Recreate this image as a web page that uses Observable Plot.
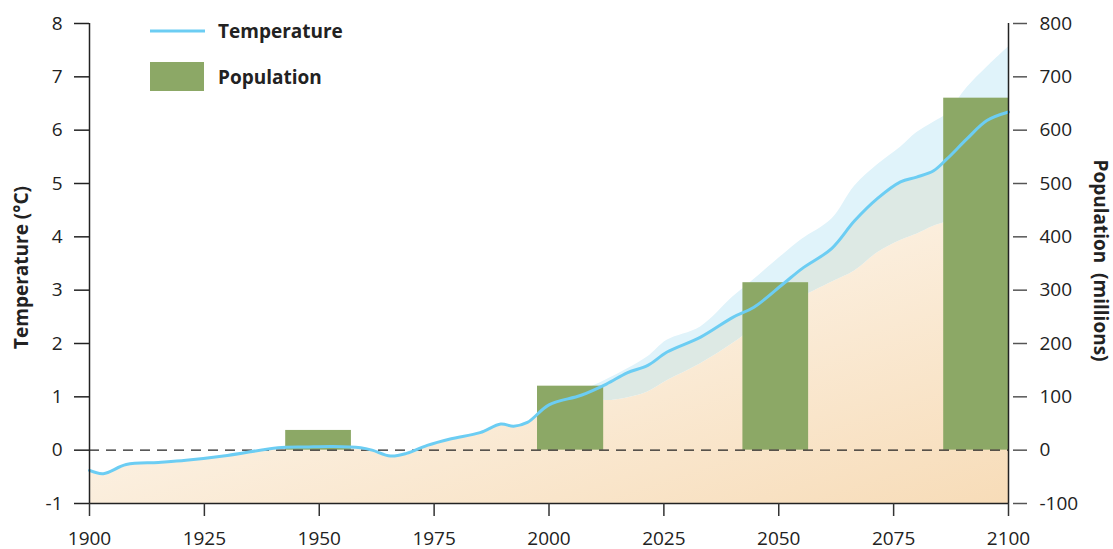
<!DOCTYPE html>
<html><head><meta charset="utf-8">
<script src="https://cdn.jsdelivr.net/npm/d3@7"></script>
<script src="https://cdn.jsdelivr.net/npm/@observablehq/plot@0.6"></script>
<style>
body{margin:0;background:#fff;}
#chart svg{font-family:"Open Sans",sans-serif;}
</style>
</head><body><div id="chart"></div>
<script>
// Temperature series (°C) with projection band
const years = [1900, 1903, 1908, 1915, 1921, 1930, 1941, 1947, 1953, 1959, 1961.5, 1965.5, 1969, 1973.5, 1978.5, 1985, 1989.5, 1992.3, 1995.3, 2000,
  2007, 2012.5, 2017, 2021.5, 2025.7, 2033, 2040, 2044.6, 2051, 2055, 2061.5, 2066.5, 2071.5, 2076.5, 2080, 2083.7, 2086.6, 2091, 2095.3, 2100];
const temperature = [-0.38, -0.44, -0.27, -0.23, -0.19, -0.10, 0.045, 0.06, 0.07, 0.045, 0.0, -0.11, -0.06, 0.09, 0.21, 0.33, 0.49, 0.45, 0.52, 0.85,
  1.03, 1.24, 1.45, 1.59, 1.84, 2.12, 2.49, 2.68, 3.12, 3.40, 3.78, 4.30, 4.72, 5.03, 5.12, 5.24, 5.46, 5.84, 6.18, 6.34];
const lowerBound = [-0.38, -0.44, -0.27, -0.23, -0.19, -0.10, 0.045, 0.06, 0.07, 0.045, 0.0, -0.11, -0.06, 0.09, 0.21, 0.33, 0.49, 0.45, 0.52, 0.85,
  0.97, 0.93, 0.98, 1.09, 1.30, 1.62, 2.00, 2.28, 2.68, 2.87, 3.15, 3.36, 3.70, 3.93, 4.05, 4.20, 4.28, 4.35, 4.40, 4.45];
const upperBound = [-0.38, -0.44, -0.27, -0.23, -0.19, -0.10, 0.045, 0.06, 0.07, 0.045, 0.0, -0.11, -0.06, 0.09, 0.21, 0.33, 0.49, 0.45, 0.52, 0.85,
  1.10, 1.32, 1.52, 1.75, 2.06, 2.31, 2.87, 3.20, 3.67, 3.95, 4.33, 4.95, 5.35, 5.68, 5.95, 6.15, 6.31, 6.80, 7.18, 7.56];

// Population bars (millions), spanning years
const barStart = [1942.7, 1997.5, 2042.2, 2085.9];
const barEnd = [1957.0, 2011.9, 2056.5, 2100];
const population = [37, 120, 314, 660];

// Ticks
const xTicks = [1900, 1925, 1950, 1975, 2000, 2025, 2050, 2075, 2100];
const tempTicks = [-1, 0, 1, 2, 3, 4, 5, 6, 7, 8];
const popTicks = [-100, 0, 100, 200, 300, 400, 500, 600, 700, 800];

const popPerDegree = 100; // right axis: 100 million per 1 °C unit
const lineColor = "#6ccdf3";
const barColor = "#8ca866";
const ink = "#222";

const series = years.map((year, i) => ({year, temp: temperature[i], lower: lowerBound[i], upper: upperBound[i]}));
const bars = population.map((pop, i) => ({x1: barStart[i], x2: barEnd[i], v: pop / popPerDegree}));
const bandSeries = series.filter(d => d.year >= 2000);

const defsMark = () => {
  const defs = d3.create("svg:defs");
  const lg = defs.append("linearGradient").attr("id", "orangeGrad")
    .attr("x1", 0).attr("y1", 0).attr("x2", 1).attr("y2", 1);
  lg.append("stop").attr("offset", "0%").attr("stop-color", "#ffffff");
  lg.append("stop").attr("offset", "100%").attr("stop-color", "#f7dcb8");
  return defs.node();
};

const legendMark = () => {
  const g = d3.create("svg:g").attr("font-weight", "bold").attr("font-size", 19)
    .attr("fill", ink).attr("text-anchor", "start");
  g.append("line").attr("x1", 150).attr("x2", 205).attr("y1", 31).attr("y2", 31)
    .attr("stroke", lineColor).attr("stroke-width", 3);
  g.append("text").attr("x", 218).attr("y", 31).attr("dy", "0.35em").text("Temperature");
  g.append("rect").attr("x", 150).attr("y", 62).attr("width", 54).attr("height", 29).attr("fill", barColor);
  g.append("text").attr("x", 218).attr("y", 77).attr("dy", "0.35em").text("Population");
  return g.node();
};

const chart = Plot.plot({
  width: 1113,
  height: 549,
  marginLeft: 89,
  marginRight: 105,
  marginTop: 23,
  marginBottom: 46,
  style: {fontFamily: "'Open Sans', sans-serif", fontSize: "19px", color: ink, background: "#fff", overflow: "visible"},
  x: {domain: [1900, 2100]},
  y: {domain: [-1, 8]},
  marks: [
    defsMark,
    Plot.areaY(series, {x: "year", y1: () => -1, y2: "lower", fill: "url(#orangeGrad)", curve: "catmull-rom"}),
    Plot.areaY(bandSeries, {x: "year", y1: "temp", y2: "upper", fill: "#e0f3fa", curve: "catmull-rom"}),
    Plot.areaY(bandSeries, {x: "year", y1: "lower", y2: "temp", fill: "#dde9e4", curve: "catmull-rom"}),
    Plot.rectY(bars, {x1: "x1", x2: "x2", y1: () => 0, y2: "v", fill: barColor}),
    Plot.ruleY([0], {stroke: ink, strokeWidth: 1.2, strokeDasharray: "10,7"}),
    Plot.line(series, {x: "year", y: "temp", stroke: lineColor, strokeWidth: 3, curve: "catmull-rom"}),
    Plot.ruleX([1900, 2100], {stroke: ink, strokeWidth: 1.5}),
    Plot.ruleY([-1], {stroke: ink, strokeWidth: 1.5}),
    Plot.axisX(xTicks, {anchor: "bottom", tickSize: 13, tickPadding: 15, strokeWidth: 1.5, stroke: "#333", label: null, tickFormat: d => String(d)}),
    Plot.axisY(tempTicks, {anchor: "left", tickSize: 15, tickPadding: 12, strokeWidth: 1.5, stroke: "#222", label: null, tickFormat: d => String(d)}),
    Plot.axisY(popTicks.map(p => p / popPerDegree), {anchor: "right", tickSize: 14, dx: 4, tickPadding: 13, strokeWidth: 1.5, stroke: "#555", label: null, tickFormat: d => String(Math.round(d * popPerDegree))}),
    Plot.text(["Temperature (°C)"], {frameAnchor: "left", dx: -68, dy: 4, rotate: -90, textAnchor: "middle", lineAnchor: "middle", fontWeight: "bold", fontSize: 19, fill: ink}),
    Plot.text(["Population  (millions)"], {frameAnchor: "right", dx: 92, dy: -3, rotate: 90, textAnchor: "middle", lineAnchor: "middle", fontWeight: "bold", fontSize: 19, fill: ink}),
    legendMark
  ]
});
document.getElementById("chart").appendChild(chart);
</script>
</body></html>
